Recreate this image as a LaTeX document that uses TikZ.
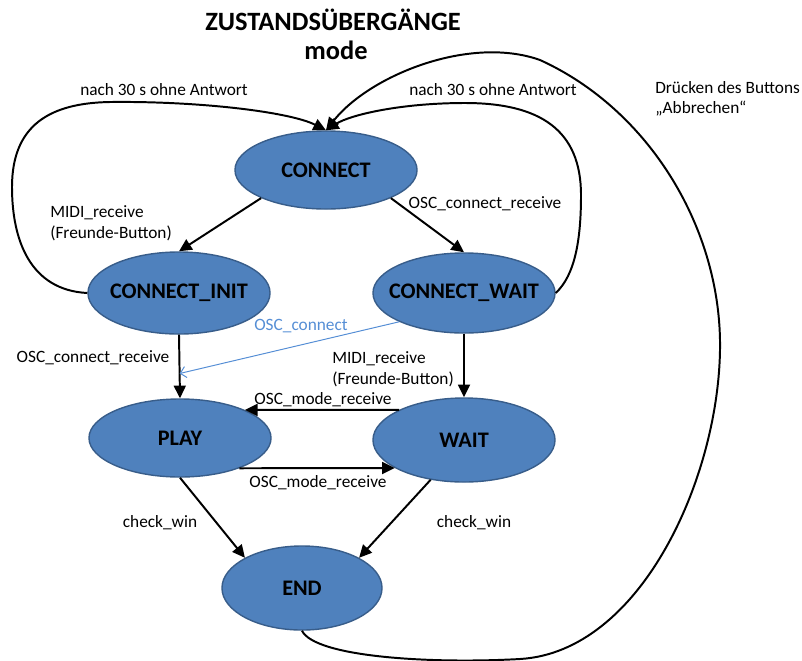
\documentclass[tikz,border=0pt]{standalone}
\usepackage{fontspec}
\setmainfont{Carlito}
\usetikzlibrary{arrows.meta, shapes.geometric, calc}
\definecolor{stFill}{RGB}{79,129,189}
\definecolor{stEdge}{RGB}{56,93,138}
\definecolor{oscBlue}{RGB}{85,142,213}

\begin{document}
\begin{tikzpicture}[x=0.025cm, y=-0.025cm,
        state/.style={ellipse, draw=stEdge, line width=1pt, fill=stFill, minimum width=4.55cm, minimum height=2cm, inner sep=0pt, font=\fontsize{15.8}{18}\selectfont\bfseries},
        arr/.style={-{Triangle[length=9pt, width=8.5pt]}, line width=1.4pt, black},
        blu/.style={-{Straight Barb[length=4pt, width=8pt]}, draw=oscBlue, line width=0.7pt},
        lbl/.style={font=\fontsize{12.3}{14.6}\selectfont, inner sep=0pt},
        ttl/.style={font=\fontsize{18.8}{22}\selectfont\bfseries, inner sep=0pt},
    ]
    \useasboundingbox (0,0) rectangle (802,660);
    % title
    \node[ttl] (title) at (333,20) {ZUSTANDSÜBERGÄNGE};
    \node[ttl] (mode) at (336,50) {mode};
    % states
    \node[state, minimum height=1.95cm] (connect) at (326,170) {\makebox[0pt]{CONNECT}};
    \node[state, minimum height=2.05cm] (init) at (179,293) {\makebox[0pt]{CONNECT\_INIT}};
    \node[state] (cwait) at (464,293) {\makebox[0pt]{CONNECT\_WAIT}};
    \node[state, minimum height=1.95cm] (play) at (180,438) {\makebox[0pt]{PLAY}};
    \node[state, minimum height=2.1cm] (wait) at (464,440) {\makebox[0pt]{WAIT}};
    \node[state, minimum width=4cm, minimum height=2.1cm] (end) at (302,588) {\makebox[0pt]{END}};
    % transitions
    \draw[arr] (connect.south west) -- (init.north);
    \draw[arr] (connect.south east) -- (cwait.north);
    \draw[arr] (init.south) -- (play.north);
    \draw[arr] (cwait.south) -- (wait.north);
    \draw[arr] (wait.north west) -- (play.north east);
    \draw[arr] (play.-27) -- (wait.202);
    \draw[arr] (play.south) -- (end.north west);
    \draw[arr] (wait.230) -- (end.north east);
    \coordinate (oscend) at ($(init.south)!0.61!(play.north)$);
    \draw[blu] (cwait.south west) -- (oscend);
    % timeouts and abort
    \draw[arr] (init.west) .. controls (30,290) and (12,240) .. (12,187)
        .. controls (12,125) and (50,103) .. (110,102)
        .. controls (200,101) and (290,112) .. (connect.north);
    \draw[arr] (cwait.east) .. controls (575,275) and (581,240) .. (581,195)
        .. controls (581,130) and (540,103) .. (465,103)
        .. controls (400,103) and (350,115) .. (connect.north);
    \draw[arr] (end.south) .. controls (315,657) and (430,664) .. (520,659)
        .. controls (640,652) and (718,480) .. (720,350)
        .. controls (722,230) and (650,110) .. (540,60)
        .. controls (470,35) and (370,75) .. (connect.north);
    % labels
    \node[lbl] (lTimeL) at (164,90) {nach 30 s ohne Antwort};
    \node[lbl] (lTimeR) at (493,90) {nach 30 s ohne Antwort};
    \node[lbl, align=left, anchor=west] (lAbort) at (655,99) {Drücken des Buttons\\„Abbrechen“};
    \node[lbl, align=left, anchor=west] (lMidiL) at (50,223) {MIDI\_receive\\(Freunde-Button)};
    \node[lbl] (lOscR) at (485,204) {OSC\_connect\_receive};
    \node[lbl] (lOscL) at (93,358) {OSC\_connect\_receive};
    \node[lbl, align=left, anchor=west] (lMidiR) at (332,369) {MIDI\_receive\\(Freunde-Button)};
    \node[lbl, text=oscBlue] (lOsc) at (301,326) {OSC\_connect};
    \node[lbl] (lModeT) at (323,400) {OSC\_mode\_receive};
    \node[lbl] (lModeB) at (318,483) {OSC\_mode\_receive};
    \node[lbl] (lWinL) at (160,523) {check\_win};
    \node[lbl] (lWinR) at (474,523) {check\_win};
\end{tikzpicture}
\end{document}
